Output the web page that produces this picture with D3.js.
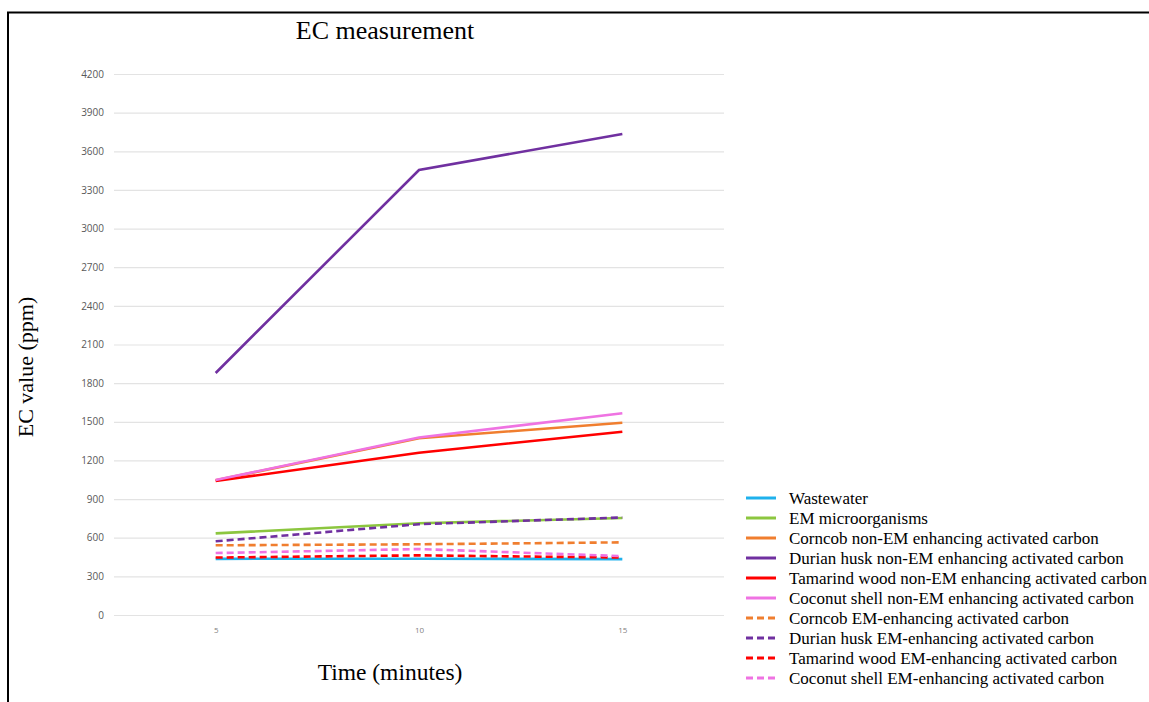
<!DOCTYPE html>
<html>
<head>
<meta charset="utf-8">
<script src="https://cdn.jsdelivr.net/npm/d3@7"></script>
<style>
  html, body { margin: 0; padding: 0; background: #fff; }
  svg { display: block; }
</style>
</head>
<body>
<svg id="chart" width="1149" height="702"></svg>
<script>
// ---- data ----
const times = ["5", "10", "15"];
const yTicks = [0, 300, 600, 900, 1200, 1500, 1800, 2100, 2400, 2700, 3000, 3300, 3600, 3900, 4200];

const seriesNames = [
  "Wastewater",
  "EM microorganisms",
  "Corncob non-EM enhancing activated carbon",
  "Durian husk non-EM enhancing activated carbon",
  "Tamarind wood non-EM enhancing activated carbon",
  "Coconut shell non-EM enhancing activated carbon",
  "Corncob EM-enhancing activated carbon",
  "Durian husk EM-enhancing activated carbon",
  "Tamarind wood EM-enhancing activated carbon",
  "Coconut shell EM-enhancing activated carbon"
];
const wastewater      = [436, 437, 434];
const emMicro         = [634, 712, 753];
const corncobNonEM    = [1046, 1372, 1493];
const durianNonEM     = [1879, 3455, 3734];
const tamarindNonEM   = [1040, 1260, 1423];
const coconutNonEM    = [1048, 1378, 1566];
const corncobEM       = [541, 549, 564];
const durianEM        = [572, 705, 757];
const tamarindEM      = [446, 463, 446];
const coconutEM       = [481, 512, 457];
const seriesValues = [wastewater, emMicro, corncobNonEM, durianNonEM, tamarindNonEM,
                      coconutNonEM, corncobEM, durianEM, tamarindEM, coconutEM];
const seriesColors = ["#1fb1ec", "#8cc63f", "#f07e2f", "#7030a0", "#ff0000",
                      "#ef73e2", "#f07e2f", "#7030a0", "#ff0000", "#ef73e2"];
const seriesDashed = [false, false, false, false, false, false, true, true, true, true];

// ---- layout ----
const svg = d3.select("#chart");
const plotLeft = 114, plotRight = 724, plotTop = 74, plotBottom = 615;

const x = d3.scalePoint().domain(times).range([plotLeft, plotRight]).padding(0.5);
const y = d3.scaleLinear().domain([0, 4200]).range([plotBottom, plotTop]);

// frame border (top and left)
svg.append("path")
  .attr("d", `M8,702 L8,12.5 L1149,12.5`)
  .attr("fill", "none").attr("stroke", "#000").attr("stroke-width", 2);

// y axis with gridlines
const yAxis = d3.axisLeft(y).tickValues(yTicks).tickSize(-(plotRight - plotLeft)).tickPadding(10)
  .tickFormat(d3.format("d"));
const gy = svg.append("g").attr("transform", `translate(${plotLeft},0)`).call(yAxis);
gy.select(".domain").remove();
gy.selectAll(".tick line").attr("stroke", "#e3e3e3").attr("stroke-width", 1.2);
gy.selectAll(".tick text")
  .attr("fill", "#595959")
  .style("font-family", "'Open Sans', 'Noto Sans', sans-serif")
  .style("font-size", "10px");

// x axis labels
const xAxis = d3.axisBottom(x).tickSize(0).tickPadding(10);
const gx = svg.append("g").attr("transform", `translate(0,${plotBottom + 2})`).call(xAxis);
gx.select(".domain").remove();
gx.selectAll(".tick text")
  .attr("fill", "#7f7f7f")
  .style("font-family", "'Open Sans', 'Noto Sans', sans-serif")
  .style("font-size", "8px");

// lines
const line = d3.line().x((d, i) => x(times[i])).y(d => y(d));
seriesValues.forEach((vals, i) => {
  svg.append("path")
    .datum(vals)
    .attr("d", line)
    .attr("fill", "none")
    .attr("stroke", seriesColors[i])
    .attr("stroke-width", 2.6)
    .attr("stroke-linecap", "butt")
    .attr("stroke-dasharray", seriesDashed[i] ? "7,4" : null);
});

// titles
const serif = "'Liberation Serif', 'Times New Roman', serif";
svg.append("text").attr("x", 385).attr("y", 39).attr("text-anchor", "middle")
  .style("font-family", serif).style("font-size", "26px").attr("fill", "#000")
  .text("EC measurement");
svg.append("text").attr("x", 390).attr("y", 680).attr("text-anchor", "middle")
  .style("font-family", serif).style("font-size", "23.5px").attr("fill", "#000")
  .text("Time (minutes)");
svg.append("text").attr("transform", "translate(33,367) rotate(-90)").attr("text-anchor", "middle")
  .style("font-family", serif).style("font-size", "22px").attr("fill", "#000")
  .text("EC value (ppm)");

// legend
const legend = svg.append("g");
seriesNames.forEach((name, i) => {
  const ly = 498 + i * 20;
  legend.append("line")
    .attr("x1", 746).attr("x2", 776).attr("y1", ly).attr("y2", ly)
    .attr("stroke", seriesColors[i]).attr("stroke-width", 3)
    .attr("stroke-dasharray", seriesDashed[i] ? "7,4" : null);
  legend.append("text")
    .attr("x", 789).attr("y", ly + 5.5)
    .style("font-family", serif).style("font-size", "17px").attr("fill", "#000")
    .text(name);
});
</script>
</body>
</html>
